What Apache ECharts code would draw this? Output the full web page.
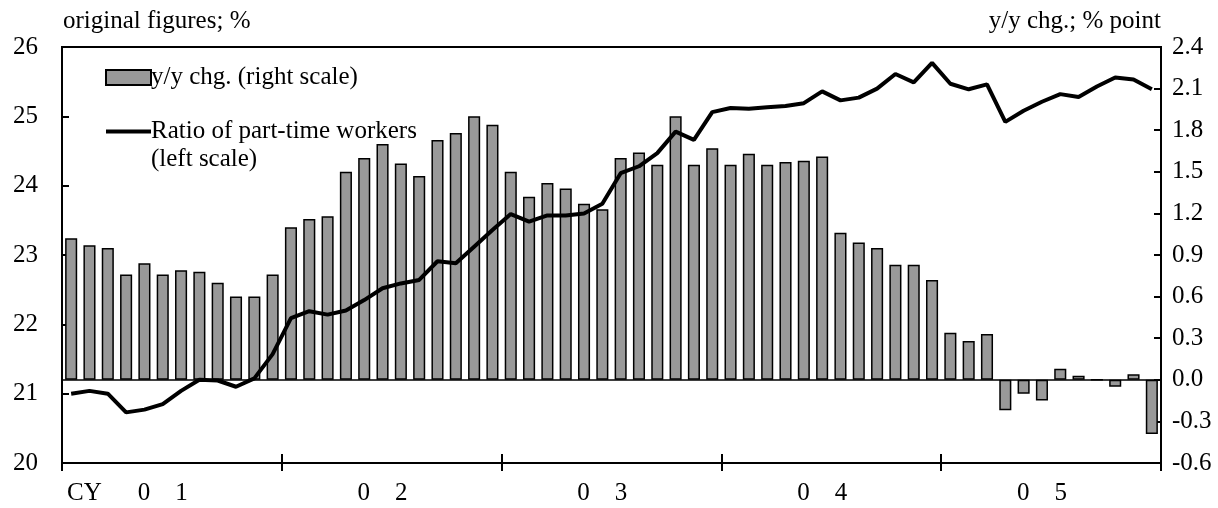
<!DOCTYPE html>
<html>
<head>
<meta charset="utf-8">
<script src="https://cdn.jsdelivr.net/npm/echarts@6/dist/echarts.min.js"></script>
<style>
html,body{margin:0;padding:0;background:#fff;}
#chart{width:1218px;height:508px;}
</style>
</head>
<body>
<div id="chart"></div>
<script>
// Categories: monthly, CY2001 Jan - CY2005 Dec
var years = ['01', '02', '03', '04', '05'];
var months = [];
years.forEach(function (y) { for (var m = 1; m <= 12; m++) months.push(y + '/' + m); });

// Ratio of part-time workers (left scale, %)
var ratio = [
  21.00, 21.04, 21.00, 20.73, 20.77, 20.85, 21.04, 21.20, 21.19, 21.10, 21.22, 21.57,
  22.09, 22.19, 22.14, 22.20, 22.35, 22.52, 22.59, 22.64, 22.91, 22.88, 23.12, 23.36,
  23.59, 23.48, 23.57, 23.57, 23.60, 23.74, 24.18, 24.28, 24.47, 24.78, 24.66, 25.06,
  25.12, 25.11, 25.13, 25.15, 25.19, 25.36, 25.23, 25.27, 25.40, 25.61, 25.49, 25.77,
  25.47, 25.39, 25.46, 24.92, 25.08, 25.21, 25.32, 25.28, 25.43, 25.56, 25.53, 25.39
];

// y/y change (right scale, % point)
var yoy = [
  1.02, 0.97, 0.95, 0.76, 0.84, 0.76, 0.79, 0.78, 0.70, 0.60, 0.60, 0.76,
  1.10, 1.16, 1.18, 1.50, 1.60, 1.70, 1.56, 1.47, 1.73, 1.78, 1.90, 1.84,
  1.50, 1.32, 1.42, 1.38, 1.27, 1.23, 1.60, 1.64, 1.55, 1.90, 1.55, 1.67,
  1.55, 1.63, 1.55, 1.57, 1.58, 1.61, 1.06, 0.99, 0.95, 0.83, 0.83, 0.72,
  0.34, 0.28, 0.33, -0.22, -0.10, -0.15, 0.08, 0.03, 0.00, -0.05, 0.04, -0.39
];

// Tick labels
var yearLabels = ['0    1', '0    2', '0    3', '0    4', '0    5'];
var leftTitle = 'original figures; %';
var rightTitle = 'y/y chg.; % point';
var barName = 'y/y chg. (right scale)';
var lineName = 'Ratio of part-time workers';
var lineName2 = '(left scale)';

var FONT = 'Liberation Serif';
var FS = 25;

var chart = echarts.init(document.getElementById('chart'), null, {renderer: 'canvas'});

var tickEveryYear = function (i) { return i % 12 === 0; };

var option = {
  animation: false,
  backgroundColor: '#fff',
  textStyle: {fontFamily: FONT, color: '#000'},
  grid: {left: 62, right: 57, top: 47, bottom: 45, show: true, borderColor: '#000', borderWidth: 2, backgroundColor: 'transparent'},
  legend: {
    orient: 'vertical',
    left: 100, top: 60,
    itemWidth: 45, itemHeight: 15,
    itemGap: 29,
    textStyle: {fontFamily: FONT, fontSize: FS, color: '#000', padding: [0, 0, 0, -5]},
    data: [
      {name: barName, icon: 'rect', itemStyle: {color: '#999999', borderColor: '#000', borderWidth: 2}},
      {name: lineName, icon: 'path://M0,0 L45,0 L45,4 L0,4 Z', itemStyle: {color: '#000', borderWidth: 0}}
    ]
  },
  graphic: [
    {type: 'text', left: 63, top: 9, style: {text: leftTitle, font: FS + 'px "' + FONT + '"', fill: '#000'}},
    {type: 'text', right: 57, top: 9, style: {text: rightTitle, font: FS + 'px "' + FONT + '"', fill: '#000', textAlign: 'right'}},
    {type: 'text', left: 151, top: 147, style: {text: lineName2, font: FS + 'px "' + FONT + '"', fill: '#000'}},
    {type: 'text', left: 67, top: 481, style: {text: 'CY', font: FS + 'px "' + FONT + '"', fill: '#000'}}
  ],
  xAxis: [
    {
      type: 'category', data: months, position: 'bottom', boundaryGap: true,
      axisLine: {show: true, onZero: false, lineStyle: {color: '#000', width: 2}},
      axisTick: {show: true, inside: true, length: 9, interval: tickEveryYear, lineStyle: {color: '#000', width: 2}},
      axisLabel: {
        show: true, interval: function (i) { return i % 12 === 5; }, margin: 18,
        fontFamily: FONT, fontSize: FS, color: '#000',
        formatter: function (v, i) { return yearLabels[Math.floor(i / 12)]; }
      },
      splitLine: {show: false}
    },
    {
      type: 'category', data: months, position: 'bottom', boundaryGap: true,
      axisLine: {show: false, onZero: false},
      axisTick: {show: true, inside: false, length: 8, interval: tickEveryYear, lineStyle: {color: '#000', width: 2}},
      axisLabel: {show: false},
      splitLine: {show: false}
    },
    {
      type: 'category', data: months, position: 'bottom', boundaryGap: true,
      axisLine: {show: true, onZero: true, onZeroAxisIndex: 1, lineStyle: {color: '#000', width: 1.5}},
      axisTick: {show: false}, axisLabel: {show: false}, splitLine: {show: false}
    }
  ],
  yAxis: [
    {
      type: 'value', position: 'left', min: 20, max: 26, interval: 1,
      axisLine: {show: true, lineStyle: {color: '#000', width: 2}},
      axisTick: {show: true, inside: true, length: 7, lineStyle: {color: '#000', width: 2}},
      axisLabel: {fontFamily: FONT, fontSize: FS, color: '#000', margin: 24},
      splitLine: {show: false}
    },
    {
      type: 'value', position: 'right', min: -0.6, max: 2.4, interval: 0.3,
      axisLine: {show: true, lineStyle: {color: '#000', width: 2}},
      axisTick: {show: true, inside: true, length: 7, lineStyle: {color: '#000', width: 2}},
      axisLabel: {fontFamily: FONT, fontSize: FS, color: '#000', margin: 11,
        formatter: function (v) { return (Math.round(v * 10) / 10).toFixed(1); }},
      splitLine: {show: false}
    }
  ],
  series: [
    {
      name: barName, type: 'bar', xAxisIndex: 0, yAxisIndex: 1, data: yoy,
      barCategoryGap: '34%',
      itemStyle: {color: '#999999', borderColor: '#000', borderWidth: 1.5},
      z: 2
    },
    {
      name: lineName, type: 'line', xAxisIndex: 0, yAxisIndex: 0, data: ratio,
      symbol: 'none', lineStyle: {color: '#000', width: 4}, itemStyle: {color: '#000'},
      z: 5
    }
  ]
};
chart.setOption(option);
</script>
</body>
</html>
